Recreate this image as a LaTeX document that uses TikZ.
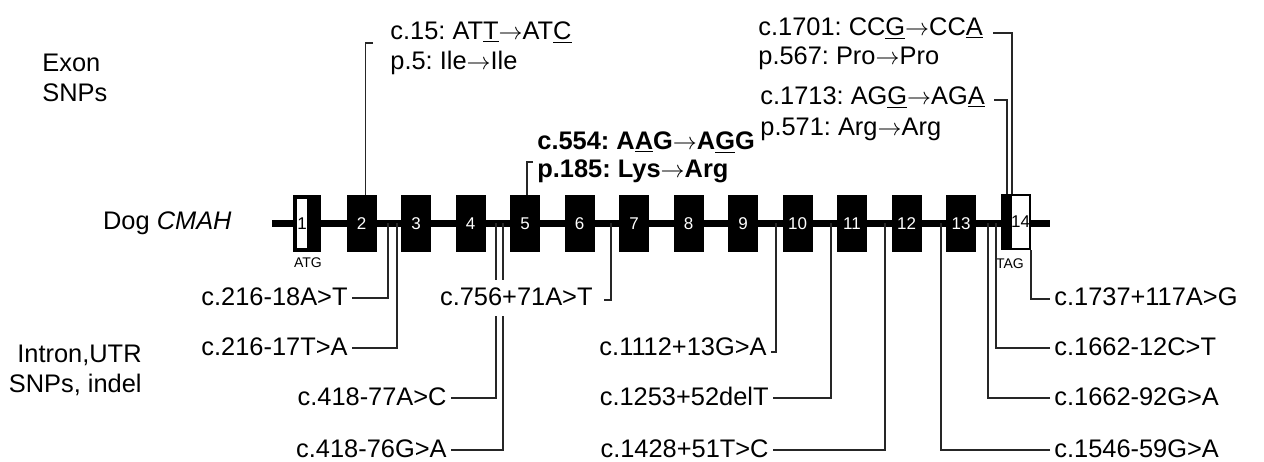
\documentclass[tikz,border=0pt]{standalone}
\usepackage{fontspec}
\setmainfont{Liberation Sans}
\usepackage{tikz}
\usetikzlibrary{positioning, calc}
\frenchspacing

\newcommand{\cto}{\ensuremath{\rightarrow}}

\tikzset{
  gene/.style={line width=3.5pt, black},
  exon/.style={fill=black, text=white, inner sep=0pt, minimum width=15pt,
               minimum height=28.5pt, font=\fontsize{8.5}{8.5}\selectfont},
  utrexon/.style={draw=black, fill=white, text=black, inner sep=0pt,
                  font=\fontsize{8.5}{8.5}\selectfont},
  codpart/.style={fill=black, inner sep=0pt},
  snp/.style={line width=0.75pt, black!85},
  lbl/.style={font=\fontsize{12.7}{15}\selectfont, inner xsep=2pt, inner ysep=1pt,
              text height=9.5pt, text depth=2.5pt},
  side/.style={font=\fontsize{12.7}{15}\selectfont, inner sep=2pt},
  codon/.style={font=\fontsize{7}{7}\selectfont, inner sep=0pt}
}

\begin{document}
\begin{tikzpicture}[x=0.5pt, y=-0.5pt]
  \useasboundingbox (0,0) rectangle (1264,461);

  %% side titles
  \node[side, align=left, anchor=west] (exsnp) at (38,78) {Exon\\SNPs};
  \node[side, anchor=east] (dog) at (236,223) {Dog \textit{CMAH}};
  \node[side, align=right, anchor=east] (insnp) at (146,370) {Intron,UTR\\SNPs, indel};

  %% gene backbone and exons
  \coordinate (g0) at (272,223);
  \coordinate (g1) at (1050,223);
  \draw[gene] (g0) -- (g1);

  \node[codpart, minimum width=6pt, minimum height=28.5pt] (e1c) at (315,223.5) {};
  \node[utrexon, line width=2pt, minimum width=7pt, minimum height=26.5pt] (e1u) at (302,223.5) {1};
  \foreach \k in {2,...,13}
    \node[exon] (e\k) at ({361.5+(\k-2)*54.5},223.5) {\k};
  \node[codpart, minimum width=6pt, minimum height=28pt] (e14c) at (1007,222) {};
  \node[utrexon, line width=1pt, minimum width=7.5pt, minimum height=27pt] (e14u) at (1020.5,222) {14};

  \node[codon] (atg) at (308,263) {ATG};
  \node[codon] (tag) at (1010,264) {TAG};

  %% exon SNPs
  \node[lbl, anchor=west] (c15) at (386,32) {c.15: AT\underline{T}\cto AT\underline{C}};
  \node[lbl, anchor=west] (p5) at (386,62) {p.5: Ile\cto Ile};
  \draw[snp] ([shift={(-6.5pt,-5.5pt)}]c15.west) -| ([xshift=2pt]e2.north);

  \node[lbl, anchor=west, font=\fontsize{12.7}{15}\selectfont\bfseries] (c554) at (533,142)
    {c.554: A\underline{A}G\cto A\underline{G}G};
  \node[lbl, anchor=west, font=\fontsize{12.7}{15}\selectfont\bfseries] (p185) at (533,170)
    {p.185: Lys\cto Arg};
  \draw[snp] ([yshift=4pt]p185.west) -| ([xshift=1pt]e5.north);

  \node[lbl, anchor=west] (c1701) at (754,28) {c.1701: CC\underline{G}\cto CC\underline{A}};
  \node[lbl, anchor=west] (p567) at (754,57) {p.567: Pro\cto Pro};
  \node[lbl, anchor=west] (c1713) at (756,97) {c.1713: AG\underline{G}\cto AG\underline{A}};
  \node[lbl, anchor=west] (p571) at (756,128) {p.571: Arg\cto Arg};
  \draw[snp] ([shift={(3pt,-2.5pt)}]c1701.east) -| ([xshift=2.5pt]e14c.north);
  \draw[snp] ([shift={(2.5pt,-1.5pt)}]c1713.east) -| (e14c.north);

  %% intron / UTR SNPs
  \foreach \n/\x in {a/388, b/397, c/496, d/503, e/611, f/776, g/831, h/885,
                     i/941, j/988, k/996}
    \coordinate (p\n) at (\x,223);

  \foreach \n/\x/\y/\p/\t in {s1/352/298/a/{c.216-18A>T}, s2/352/348/b/{c.216-17T>A},
                              s3/451/398/c/{c.418-77A>C}, s4/451/450/d/{c.418-76G>A},
                              s6/773/398/g/{c.1253+52delT}, s7/773/450/h/{c.1428+51T>C}} {
    \node[lbl, anchor=east] (\n) at (\x,\y) {\t};
    \draw[snp] (\n.east) -| (p\p);
  }
  \foreach \n/\y/\p/\t in {s8/450/i/{c.1546-59G>A}, s9/398/j/{c.1662-92G>A},
                           s10/348/k/{c.1662-12C>T}} {
    \node[lbl, anchor=west] (\n) at (1050,\y) {\t};
    \draw[snp] (\n.west) -| (p\p);
  }

  \node[lbl, anchor=east, fill=white, inner ysep=3pt] (s756) at (597,298) {c.756+71A>T};
  \draw[snp] ([shift={(3.5pt,-1pt)}]s756.east) -| (pe);

  \node[lbl, anchor=east] (s5) at (771,348) {c.1112+13G>A};
  \draw[snp] ([yshift=-2pt]s5.east) -| (pf);

  \node[lbl, anchor=west] (s11) at (1050,298) {c.1737+117A>G};
  \draw[snp] (e14u.south east) |- ([yshift=-0.5pt]s11.west);
\end{tikzpicture}
\end{document}
